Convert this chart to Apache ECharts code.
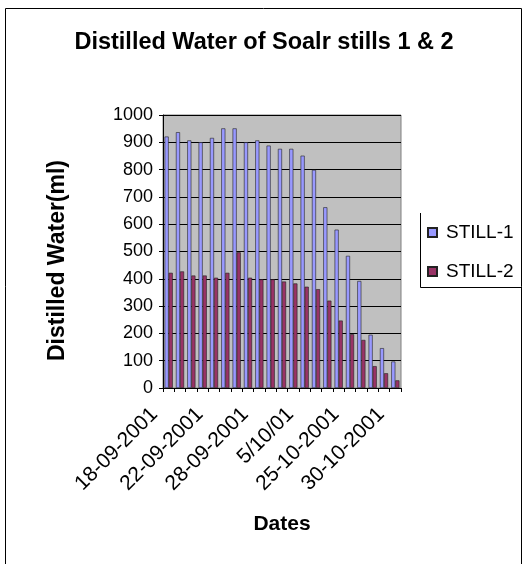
<!DOCTYPE html>
<html>
<head>
<meta charset="utf-8">
<script src="https://cdn.jsdelivr.net/npm/echarts@6/dist/echarts.min.js"></script>
<style>
    html, body { margin: 0; padding: 0; background: #fff; }
    #chart { width: 528px; height: 564px; }
</style>
</head>
<body>
<div id="chart"></div>
<script>
// dates on the x axis (only every 4th one is labelled in the picture)
var dates = [
    '18-09-2001', '19-09-2001', '20-09-2001', '21-09-2001',
    '22-09-2001', '23-09-2001', '25-09-2001', '26-09-2001',
    '28-09-2001', '29-09-2001', '1/10/01', '3/10/01',
    '5/10/01', '10/10/01', '15/10/01', '20/10/01',
    '25-10-2001', '26-10-2001', '27-10-2001', '28-10-2001',
    '30-10-2001'
];
var still1 = [921, 937, 907, 900, 916, 951, 951, 900, 907, 888, 876,
              876, 851, 799, 662, 580, 484, 392, 195, 146, 97];
var still2 = [422, 427, 412, 412, 404, 422, 497, 404, 398, 398, 390,
              383, 371, 362, 320, 247, 197, 176, 80, 54, 28];

var FONT = '"Liberation Sans", Arial, sans-serif';

var chart = echarts.init(document.getElementById('chart'));

var option = {
    backgroundColor: '#fff',
    animation: false,
    title: {
        text: 'Distilled Water of Soalr stills 1 & 2',
        left: 'center',
        top: 26,
        textStyle: { fontFamily: FONT, fontSize: 23.5, fontWeight: 'bold', color: '#000' }
    },
    legend: {
        orient: 'vertical',
        left: 422,
        top: 218,
        itemWidth: 9,
        itemHeight: 9,
        itemGap: 20,
        icon: 'rect',
        textStyle: { fontFamily: FONT, fontSize: 19, color: '#000', padding: [0, 0, 0, 4] },
        data: ['STILL-1', 'STILL-2']
    },
    grid: {
        left: 163,
        right: 127,
        top: 115,
        bottom: 176,
        show: true,
        backgroundColor: '#c0c0c0',
        borderColor: '#808080',
        borderWidth: 1
    },
    xAxis: {
        type: 'category',
        data: dates,
        name: 'Dates',
        nameLocation: 'middle',
        nameGap: 126,
        nameTextStyle: { fontFamily: FONT, fontSize: 21, fontWeight: 'bold', color: '#000' },
        axisLine: { lineStyle: { color: '#000', width: 1 } },
        axisTick: { show: true, interval: 0, length: 4, lineStyle: { color: '#000' } },
        axisLabel: {
            interval: 3,
            rotate: 45,
            margin: 9,
            padding: [0, 20, 0, 0],
            fontFamily: FONT,
            fontSize: 21,
            color: '#000'
        }
    },
    yAxis: {
        type: 'value',
        min: 0,
        max: 1000,
        interval: 100,
        name: 'Distilled Water(ml)',
        nameLocation: 'middle',
        nameRotate: 90,
        nameGap: 94,
        nameTextStyle: {
            fontFamily: FONT,
            fontSize: 23,
            fontWeight: 'bold',
            color: '#000',
            padding: [0, 18, 0, 0]
        },
        axisLine: { show: true, lineStyle: { color: '#000' } },
        axisTick: { show: true, length: 4, lineStyle: { color: '#000' } },
        axisLabel: {
            fontFamily: FONT,
            fontSize: 18,
            color: '#000',
            margin: 10,
            formatter: function (v) { return String(v); }
        },
        splitLine: { show: true, lineStyle: { color: '#000', width: 1 } }
    },
    series: [
        {
            name: 'STILL-1',
            type: 'bar',
            data: still1,
            barGap: '0%',
            barCategoryGap: '28%',
            itemStyle: { color: '#9999ff', borderColor: '#222', borderWidth: 0.6 }
        },
        {
            name: 'STILL-2',
            type: 'bar',
            data: still2,
            itemStyle: { color: '#993366', borderColor: '#222', borderWidth: 0.6 }
        }
    ],
    graphic: [
        {
            // outer frame of the picture (top, left, right)
            type: 'polyline',
            shape: { points: [[5.5, 564], [5.5, 8.5], [521.5, 8.5], [521.5, 564]] },
            style: { fill: null, stroke: '#000', lineWidth: 1 }
        },
        {
            // legend box edge (only left and bottom are visible)
            type: 'polyline',
            shape: { points: [[420.5, 213], [420.5, 287.5], [521, 287.5]] },
            style: { fill: null, stroke: '#000', lineWidth: 1 }
        }
    ]
};

chart.setOption(option);
</script>
</body>
</html>
